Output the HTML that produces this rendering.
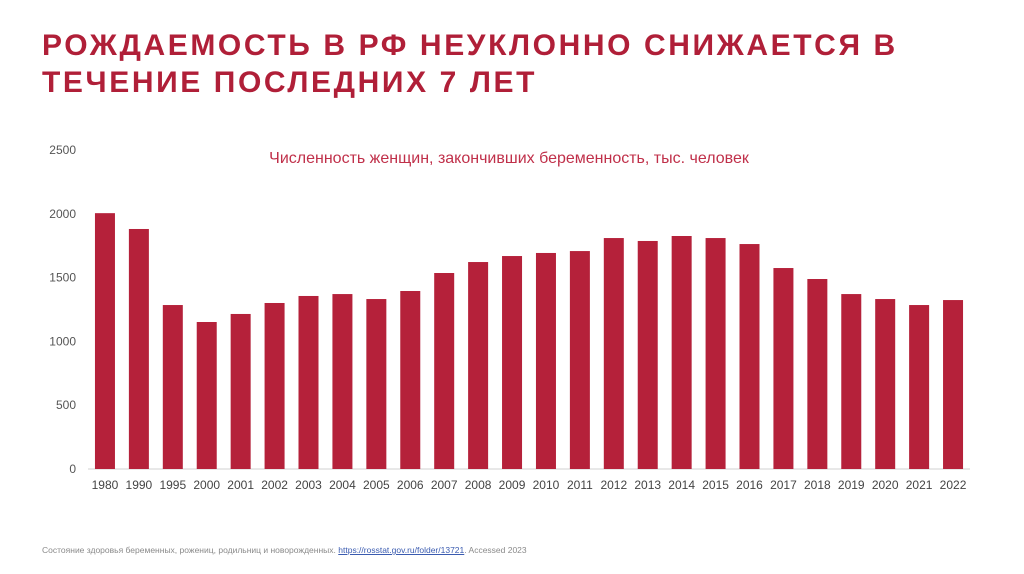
<!DOCTYPE html>
<html><head><meta charset="utf-8"><style>
body{margin:0;width:1024px;height:574px;background:#fff;font-family:"Liberation Sans",sans-serif;overflow:hidden;position:relative}
#title{position:absolute;left:42px;top:27px;font-size:30px;font-weight:bold;color:#b01f38;line-height:37px;letter-spacing:2.6px}
#foot{position:absolute;left:42px;top:545px;font-size:8.5px;color:#8a8a8a}
#foot a{color:#3a5bb0;text-decoration:underline}
</style></head><body>
<div id="title">РОЖДАЕМОСТЬ В РФ НЕУКЛОННО СНИЖАЕТСЯ В<br>ТЕЧЕНИЕ ПОСЛЕДНИХ 7 ЛЕТ</div>
<svg id="chart" width="1024" height="574" style="position:absolute;left:0;top:0"></svg>
<div id="foot">Состояние здоровья беременных, рожениц, родильниц и новорожденных. <a>https://rosstat.gov.ru/folder/13721</a>. Accessed 2023</div>
<script>
const categories=["1980","1990","1995","2000","2001","2002","2003","2004","2005","2006","2007","2008","2009","2010","2011","2012","2013","2014","2015","2016","2017","2018","2019","2020","2021","2022"];
const values=[2005,1881,1285,1152,1215,1301,1356,1371,1332,1395,1536,1622,1669,1693,1708,1810,1787,1826,1810,1763,1575,1489,1371,1332,1285,1324];
const yTicks=[0,500,1000,1500,2000,2500];
const NS="http://www.w3.org/2000/svg";
const svg=document.getElementById('chart');
const y0=469,yTop=150,yMax=2500;
const x0=88,plotW=882;
const n=categories.length;
const step=plotW/n;
const barW=20;
function y(v){return y0-(v/yMax)*(y0-yTop);}
function xc(i){return x0+step*(i+0.5);}
function mk(tag,attrs){const e=document.createElementNS(NS,tag);for(const k in attrs)e.setAttribute(k,attrs[k]);svg.appendChild(e);return e;}
const ax=mk('line',{x1:x0,x2:x0+plotW,y1:y0,y2:y0,stroke:'#d0d0d0','stroke-width':1});


yTicks.forEach(t=>{
  const e=mk('text',{x:76,y:y(t)+4,'text-anchor':'end','font-size':12,fill:'#555','font-family':'Liberation Sans'});
  e.textContent=t;
  
  
});
values.forEach((v,i)=>{
  const r=mk('rect',{x:xc(i)-barW/2,y:y(v),width:barW,height:y0-y(v),fill:'#b5213a'});
  
  
  const t=mk('text',{x:xc(i),y:489,'text-anchor':'middle','font-size':12,fill:'#444','font-family':'Liberation Sans'});
  t.textContent=categories[i];
  
  
});
const ct=mk('text',{x:509,y:163,'text-anchor':'middle','font-size':16,fill:'#c0304a','font-family':'Liberation Sans'});
ct.textContent='Численность женщин, закончивших беременность, тыс. человек';


</script>
</body></html>
